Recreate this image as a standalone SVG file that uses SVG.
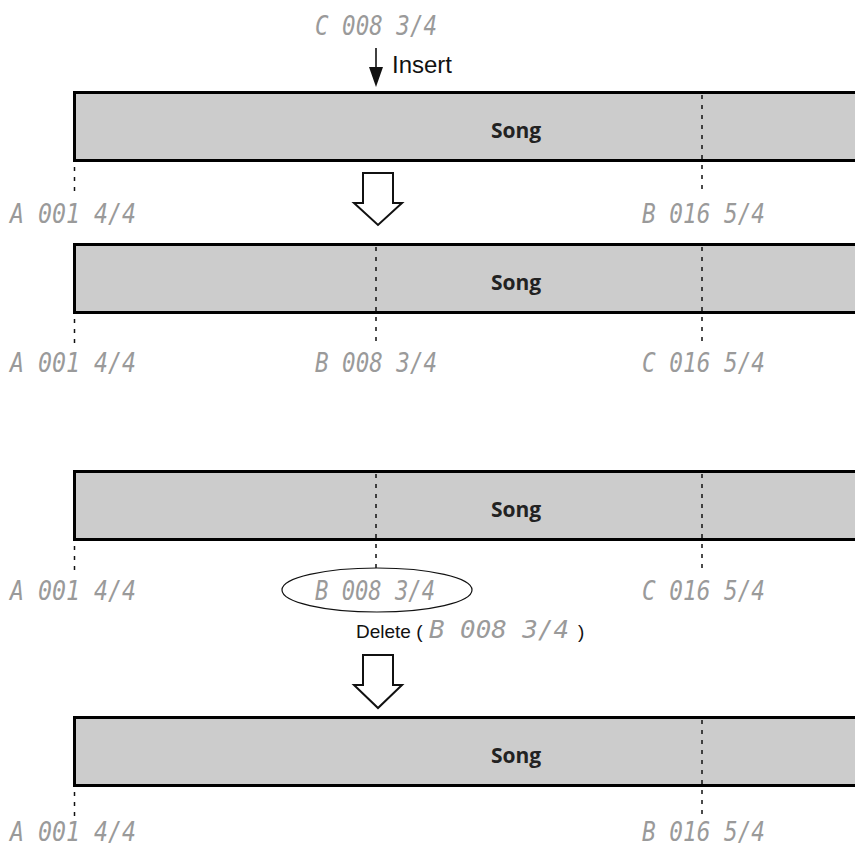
<svg xmlns="http://www.w3.org/2000/svg" width="855" height="848" viewBox="0 0 855 848">
<style>
.bar{fill:#cccccc;stroke:#000;stroke-width:3}
.song{font-family:"Open Sans","Liberation Sans",sans-serif;font-weight:bold;font-size:21px;fill:#222;text-anchor:middle}
.lcd{font-family:"DejaVu Sans Mono","Liberation Mono",monospace;font-style:italic;font-size:26px;fill:#9a9a9a}
.lbl{font-family:"Liberation Sans",Arial,sans-serif;font-size:19px;fill:#111}
.dash{stroke:#111;stroke-width:1.5;stroke-dasharray:4 6;fill:none}
.hollow{fill:#fff;stroke:#111;stroke-width:2;stroke-linejoin:miter}
</style>
<rect width="855" height="848" fill="#fff"/>

<g id="insert-label">
<text class="lcd" x="315" y="35" textLength="122" lengthAdjust="spacingAndGlyphs">C 008 3/4</text>
<line x1="376" y1="48" x2="376" y2="70" stroke="#111" stroke-width="1.6"/>
<polygon points="369,67 383,67 376,87" fill="#111"/>
<text class="lbl" x="392" y="73" style="font-size:24px">Insert</text>
</g>

<g id="song1">
<rect class="bar" x="74.5" y="92.5" width="800" height="68"/>
<text class="song" x="516" y="138">Song</text>
<text class="lcd" x="10" y="223" textLength="126" lengthAdjust="spacingAndGlyphs">A 001 4/4</text>
<text class="lcd" x="642" y="223" textLength="123" lengthAdjust="spacingAndGlyphs">B 016 5/4</text>
</g>

<g id="arrow1"><polygon class="hollow" points="363,173 393,173 393,203 402,203 378,225 354,203 363,203"/></g>

<g id="song2">
<rect class="bar" x="74.5" y="244.5" width="800" height="68"/>
<text class="song" x="516" y="290">Song</text>
<text class="lcd" x="10" y="372" textLength="126" lengthAdjust="spacingAndGlyphs">A 001 4/4</text>
<text class="lcd" x="315" y="372" textLength="122" lengthAdjust="spacingAndGlyphs">B 008 3/4</text>
<text class="lcd" x="642" y="372" textLength="123" lengthAdjust="spacingAndGlyphs">C 016 5/4</text>
</g>

<g id="song3">
<rect class="bar" x="74.5" y="471.5" width="800" height="68"/>
<text class="song" x="516" y="517">Song</text>
<text class="lcd" x="10" y="600" textLength="126" lengthAdjust="spacingAndGlyphs">A 001 4/4</text>
<ellipse cx="377" cy="590" rx="95" ry="22" fill="none" stroke="#111" stroke-width="1.2"/>
<text class="lcd" x="315" y="600" textLength="120" lengthAdjust="spacingAndGlyphs">B 008 3/4</text>
<text class="lcd" x="642" y="600" textLength="123" lengthAdjust="spacingAndGlyphs">C 016 5/4</text>
</g>

<g id="delete-label">
<text class="lbl" x="356" y="638">Delete (</text>
<text class="lcd" x="429" y="638" style="font-size:24px" textLength="140" lengthAdjust="spacingAndGlyphs">B 008 3/4</text>
<text class="lbl" x="578" y="638">)</text>
</g>

<g id="arrow2"><polygon class="hollow" points="363,655 393,655 393,685 402,685 378,708 354,685 363,685"/></g>

<g id="song4">
<rect class="bar" x="74.5" y="717.5" width="800" height="68"/>
<text class="song" x="516" y="763">Song</text>
<text class="lcd" x="10" y="841" textLength="126" lengthAdjust="spacingAndGlyphs">A 001 4/4</text>
<text class="lcd" x="642" y="841" textLength="123" lengthAdjust="spacingAndGlyphs">B 016 5/4</text>
</g>

<g id="connectors">
<line class="dash" x1="702" y1="95" x2="702" y2="192"/>
<line class="dash" x1="74.5" y1="167" x2="74.5" y2="192"/>
<line class="dash" x1="376" y1="247" x2="376" y2="344"/>
<line class="dash" x1="702" y1="247" x2="702" y2="344"/>
<line class="dash" x1="74.5" y1="319" x2="74.5" y2="344"/>
<line class="dash" x1="376" y1="474" x2="376" y2="569"/>
<line class="dash" x1="702" y1="474" x2="702" y2="571"/>
<line class="dash" x1="74.5" y1="546" x2="74.5" y2="571"/>
<line class="dash" x1="702" y1="720" x2="702" y2="817"/>
<line class="dash" x1="74.5" y1="792" x2="74.5" y2="817"/>
</g>
</svg>
